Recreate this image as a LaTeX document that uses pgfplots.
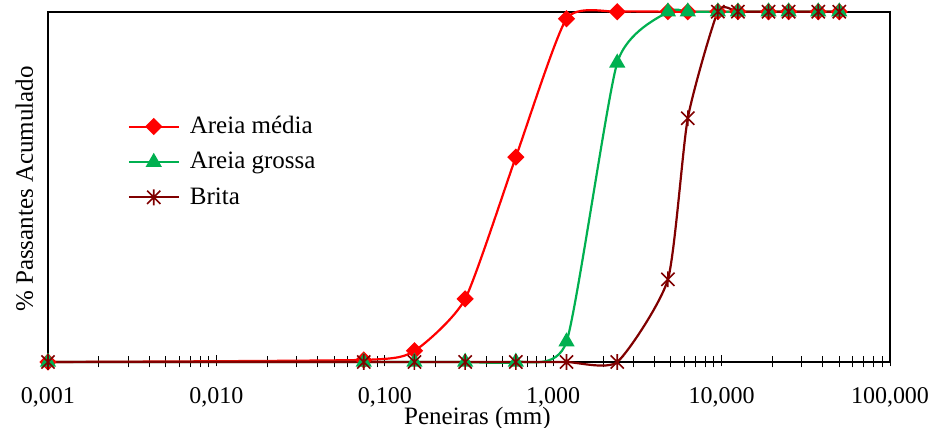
\documentclass[border=0pt]{standalone}
\usepackage{pgfplots}
\pgfplotsset{compat=1.18}
\usepackage{fontspec}
\setmainfont{Liberation Serif}
\definecolor{cred}{RGB}{255,0,0}
\definecolor{cgreen}{RGB}{0,176,80}
\definecolor{cbrown}{RGB}{128,0,0}
\pgfdeclareplotmark{xstar}{%
  \pgfpathmoveto{\pgfqpoint{-\pgfplotmarksize}{-\pgfplotmarksize}}%
  \pgfpathlineto{\pgfqpoint{\pgfplotmarksize}{\pgfplotmarksize}}%
  \pgfpathmoveto{\pgfqpoint{-\pgfplotmarksize}{\pgfplotmarksize}}%
  \pgfpathlineto{\pgfqpoint{\pgfplotmarksize}{-\pgfplotmarksize}}%
  \pgfpathmoveto{\pgfqpoint{0pt}{-1.2\pgfplotmarksize}}%
  \pgfpathlineto{\pgfqpoint{0pt}{1.2\pgfplotmarksize}}%
  \pgfusepathqstroke}
\pgfplotstableread{
x      am    ag    br
0.001  0     0     0
0.075  0.6   0     0
0.15   3.2   0     0
0.3    18    0     0
0.6    58.5  0     0
1.2    98    5.8   0
2.4    100   85.4  0
4.8    100   100   23.6
6.3    100   100   69.6
9.5    100   100   100
12.5   100   100   100
19     100   100   100
25     100   100   100
37.5   100   100   100
50     100   100   100
}\data
\begin{document}
\begin{tikzpicture}
\useasboundingbox (-24pt,-33pt) rectangle (442.5pt,181pt);
\begin{axis}[
  at={(0,0)}, anchor=south west,
  scale only axis, width=421pt, height=175.15pt,
  xmode=log, xmin=0.001, xmax=100, ymin=0, ymax=100,
  font=\fontsize{12.5}{15}\selectfont,
  axis line style={line width=1pt, black},
  xtick={0.001,0.01,0.1,1,10,100},
  xticklabels={{0,001},{0,010},{0,100},{1,000},{10,000},{100,000}},
  minor xtick={0.002,0.003,0.004,0.005,0.006,0.007,0.008,0.009,
    0.02,0.03,0.04,0.05,0.06,0.07,0.08,0.09,
    0.2,0.3,0.4,0.5,0.6,0.7,0.8,0.9,
    2,3,4,5,6,7,8,9,
    20,30,40,50,60,70,80,90},
  ytick=\empty,
  xtick pos=bottom, xtick align=center,
  major tick length=5.5pt, minor tick length=5.5pt,
  every tick/.style={black, line width=0.5pt},
  every major tick/.append style={yshift=0.6pt},
  xticklabel style={anchor=base, yshift=-18pt, font=\fontsize{12}{14}\selectfont},
  xlabel={Peneiras (mm)},
  xlabel style={at={(axis description cs:0.51,-0.178)}, anchor=base},
  ylabel={\% Passantes Acumulado},
  ylabel style={at={(axis description cs:-0.0178,0.494)}, anchor=base, rotate=0},
  clip=false,
  legend style={draw=none, fill=none, at={(axis description cs:0.087,0.725)}, anchor=north west,
    font=\fontsize{12.5}{15}\selectfont, row sep=3.8pt, column sep=3pt},
  legend cell align=left,
  legend image code/.code={\draw[mark repeat=2,mark phase=2] plot coordinates {(0pt,0pt) (12.5pt,0pt) (25pt,0pt)};},
]
\addplot[cred, line width=1.1pt, smooth, tension=0.35, mark=square*, mark size=2.5pt, mark options={rotate=45, solid, fill=cred}] table[x=x,y=am]{\data};
\addlegendentry{Areia média}
\addplot[cgreen, line width=1.1pt, smooth, tension=0.35, mark=triangle*, mark size=3.6pt, mark options={solid, fill=cgreen}] table[x=x,y=ag]{\data};
\addlegendentry{Areia grossa}
\addplot[cbrown, line width=1.1pt, smooth, tension=0.35, mark=xstar, mark size=3.3pt, mark options={solid, line width=0.8pt}] table[x=x,y=br]{\data};
\addlegendentry{Brita}
\end{axis}
\end{tikzpicture}
\end{document}
